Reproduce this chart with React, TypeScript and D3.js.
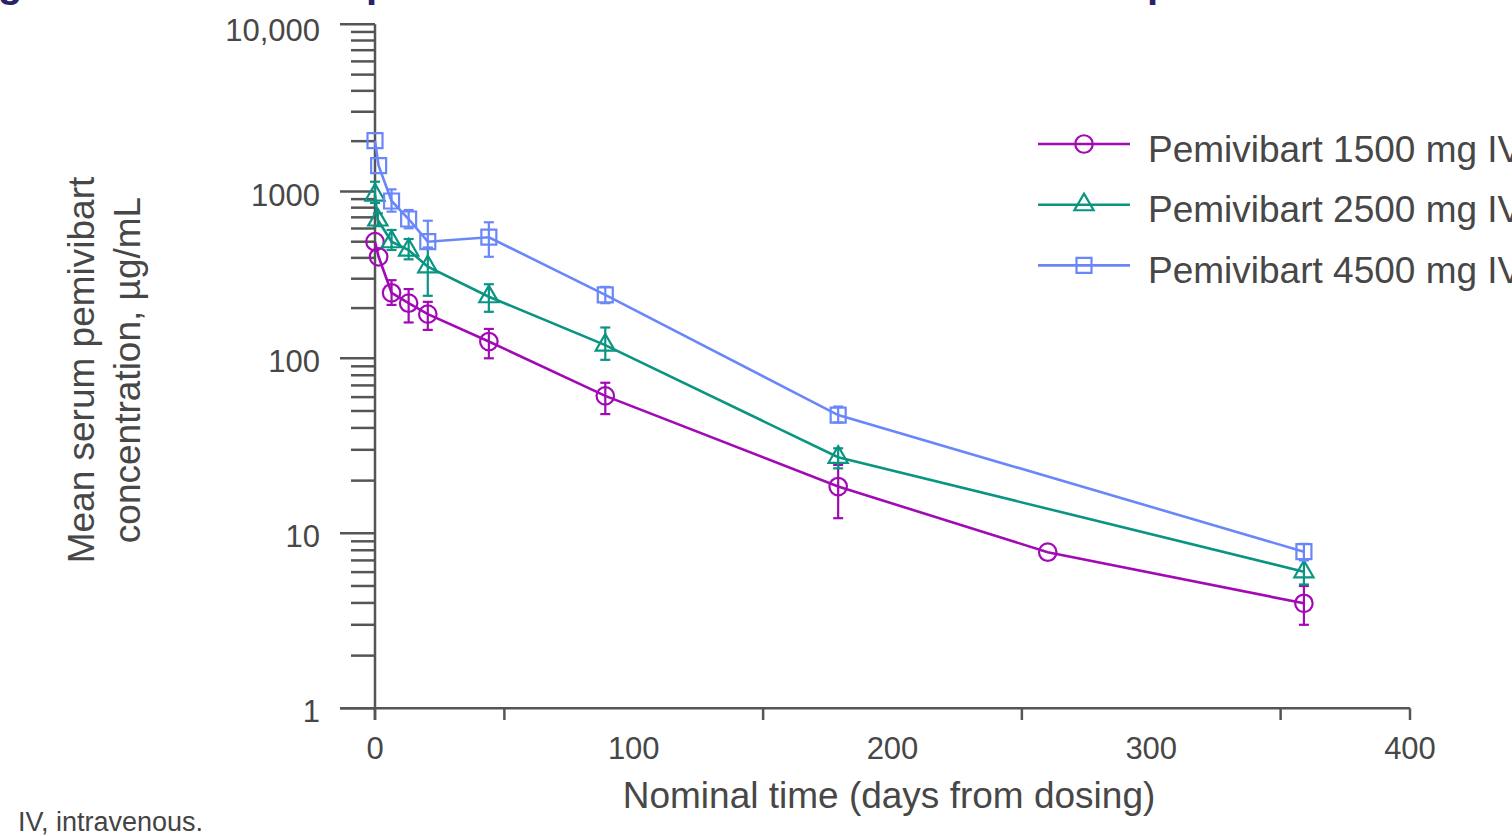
import React, { useEffect, useRef } from 'react';
import * as d3 from 'd3';

// nominal days and mean concentrations (µg/mL)
const days1500 = [0, 1.4, 6.4, 13, 20.4, 44, 89, 179, 260, 359];
const mean1500 = [500, 406, 247, 214, 184, 126, 61, 18.5, 7.8, 3.98];
const lo1500 = [null, null, 209, 164, 148, 100, 48, 12.2, null, 3.0];
const hi1500 = [null, null, 294, 260, 218, 150, 72.5, 24.6, null, 5.0];

const days2500 = [0, 1.1, 6.4, 13, 20.4, 44, 89, 179, 359];
const mean2500 = [953, 675, 500, 446, 354, 234, 120, 27.2, 6.03];
const lo2500 = [854, 620, 446, 392, 237, 190, 98, 23.5, 5.1];
const hi2500 = [1144, 740, 588, 519, 460, 278, 153, 30.6, 7.1];

const days4500 = [0, 1.4, 6.4, 13, 20.4, 44, 89, 179, 359];
const mean4500 = [2013, 1427, 877, 684, 500, 532, 240, 47.4, 7.85];
const lo4500 = [null, null, 757, 602, 460, 406, 214, 43, 7.0];
const hi4500 = [null, null, 1030, 775, 668, 654, 268, 53, 8.7];

const seriesNames = ['Pemivibart 1500 mg IV', 'Pemivibart 2500 mg IV', 'Pemivibart 4500 mg IV'];
const colors = ['#a10ab4', '#0a9482', '#6a87fa'];
const markers = [d3.symbolCircle, d3.symbolTriangle, d3.symbolSquare];

const yMajor = [1, 10, 100, 1000, 10000];
const yLabels = ['1', '10', '100', '1000', '10,000'];
const xTicks = [0, 100, 200, 300, 400];
const xMinorTicks = [0, 50, 150, 250, 350, 400];

const font = 'Arial, "Liberation Sans", sans-serif';
const textColor = '#474747';
const axisColor = '#555555';

export default function App() {
    const ref = useRef<SVGSVGElement>(null);

    useEffect(() => {
        document.body.style.margin = '0';
        const svg = d3.select(ref.current);
        svg.selectAll('*').remove();

        const x = d3.scaleLinear().domain([0, 400]).range([375, 1410]);
        // the decades on the original are not quite even, so map each one
        const y = d3.scaleLog().domain(yMajor).range([708.3, 533.3, 358.3, 191.5, 24.3]);

        // title, cut off at the top of the page
        const title = svg.append('g')
            .style('font-family', font)
            .style('font-weight', 700)
            .style('font-size', '40px')
            .attr('fill', '#27236a');
        title.append('text').attr('x', -2).attr('y', -3).text('g');
        title.append('text').attr('x', 366).attr('y', -3).text('p');
        title.append('text').attr('x', 1147).attr('y', -3).text('p');

        // y axis
        const yAxis = svg.append('g').attr('stroke', axisColor).attr('stroke-width', 2.5);
        yAxis.append('line').attr('x1', 375).attr('x2', 375).attr('y1', y(10000)).attr('y2', 720);
        yMajor.forEach(v => {
            yAxis.append('line').attr('x1', 340).attr('x2', 375).attr('y1', y(v)).attr('y2', y(v));
        });
        yMajor.slice(0, -1).forEach(d => {
            d3.range(2, 10).forEach(k => {
                yAxis.append('line').attr('x1', 351).attr('x2', 375)
                    .attr('y1', y(k * d)).attr('y2', y(k * d));
            });
        });
        svg.append('g')
            .selectAll('text')
            .data(yMajor)
            .enter()
            .append('text')
            .attr('x', 320)
            .attr('y', d => y(d) + (d === 10000 ? 17 : 14))
            .attr('text-anchor', 'end')
            .style('font-family', font)
            .style('font-size', '31px')
            .attr('fill', textColor)
            .text((d, i) => yLabels[i]);

        // x axis
        const xAxis = svg.append('g').attr('stroke', axisColor).attr('stroke-width', 2.5);
        xAxis.append('line').attr('x1', 340).attr('x2', 1410).attr('y1', 708.3).attr('y2', 708.3);
        xMinorTicks.forEach(t => {
            xAxis.append('line').attr('x1', x(t)).attr('x2', x(t)).attr('y1', 708.3).attr('y2', 720);
        });
        svg.append('g')
            .selectAll('text')
            .data(xTicks)
            .enter()
            .append('text')
            .attr('x', d => x(d))
            .attr('y', 759)
            .attr('text-anchor', 'middle')
            .style('font-family', font)
            .style('font-size', '31px')
            .attr('fill', textColor)
            .text(d => d);

        // axis titles
        svg.append('text')
            .attr('x', 889).attr('y', 808)
            .attr('text-anchor', 'middle')
            .style('font-family', font).style('font-size', '37px')
            .attr('fill', textColor)
            .text('Nominal time (days from dosing)');
        const yt = svg.append('g').attr('transform', 'translate(0,370) rotate(-90)')
            .style('font-family', font).style('font-size', '37px')
            .attr('fill', textColor).attr('text-anchor', 'middle');
        yt.append('text').attr('x', 0).attr('y', 94).text('Mean serum pemivibart');
        yt.append('text').attr('x', 0).attr('y', 140).text('concentration, µg/mL');

        // series
        const series = [
            { days: days1500, mean: mean1500, lo: lo1500, hi: hi1500 },
            { days: days2500, mean: mean2500, lo: lo2500, hi: hi2500 },
            { days: days4500, mean: mean4500, lo: lo4500, hi: hi4500 },
        ];
        const markerSize = [240, 160, 225];
        const line = d3.line<number>()
            .x(d => d[0])
            .y(d => d[1]);

        series.forEach((s, si) => {
            const g = svg.append('g').attr('stroke', colors[si]).attr('fill', 'none');
            const pts = s.days.map((d, i) => [x(d), y(s.mean[i])]);
            g.append('path')
                .attr('d', line(pts as any))
                .attr('stroke-width', 2.6);

            // error bars
            s.days.forEach((d, i) => {
                if (s.lo[i] == null) return;
                const cx = x(d);
                const eb = g.append('g').attr('stroke-width', 2.2);
                eb.append('line').attr('x1', cx).attr('x2', cx).attr('y1', y(s.lo[i])).attr('y2', y(s.hi[i]));
                eb.append('line').attr('x1', cx - 5).attr('x2', cx + 5).attr('y1', y(s.lo[i])).attr('y2', y(s.lo[i]));
                eb.append('line').attr('x1', cx - 5).attr('x2', cx + 5).attr('y1', y(s.hi[i])).attr('y2', y(s.hi[i]));
            });

            // markers
            g.selectAll('.m')
                .data(pts)
                .enter()
                .append('path')
                .attr('transform', d => `translate(${d[0]},${d[1]})`)
                .attr('d', d3.symbol().type(markers[si]).size(markerSize[si])())
                .attr('stroke-width', 2.2);
        });

        // legend
        const legend = svg.append('g');
        seriesNames.forEach((name, i) => {
            const ly = 144 + i * 60.7;
            legend.append('line')
                .attr('x1', 1038).attr('x2', 1130).attr('y1', ly).attr('y2', ly)
                .attr('stroke', colors[i]).attr('stroke-width', 2.6);
            legend.append('path')
                .attr('transform', `translate(1084,${ly})`)
                .attr('d', d3.symbol().type(markers[i]).size(markerSize[i])())
                .attr('fill', 'none').attr('stroke', colors[i]).attr('stroke-width', 2.2);
            legend.append('text')
                .attr('x', 1148).attr('y', ly + 17.7)
                .style('font-family', font).style('font-size', '37px')
                .attr('fill', textColor)
                .text(name);
        });

        // footnote
        svg.append('text')
            .attr('x', 18).attr('y', 831)
            .style('font-family', font).style('font-size', '27px')
            .attr('fill', '#444444')
            .text('IV, intravenous.');
    }, []);

    return <svg ref={ref} width={1512} height={836} style={{ display: 'block' }} />;
}
